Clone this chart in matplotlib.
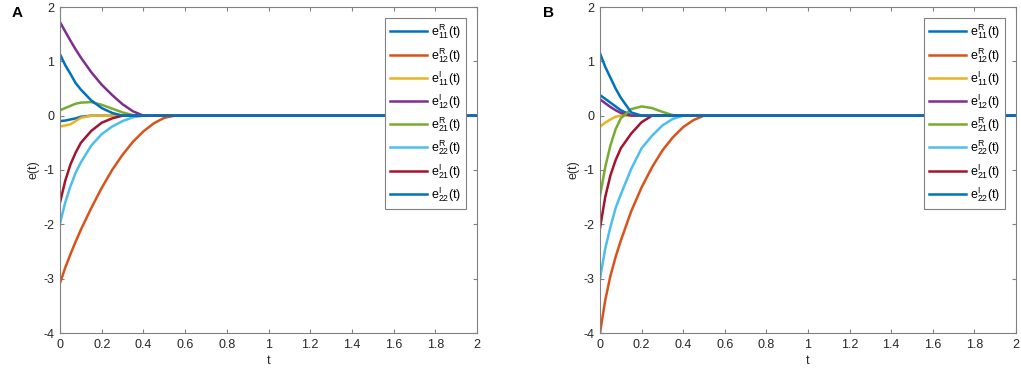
import matplotlib
matplotlib.use("Agg")
import matplotlib.pyplot as plt

plt.rcParams['font.family'] = ['Liberation Sans', 'DejaVu Sans']
plt.rcParams['mathtext.fontset'] = 'custom'
plt.rcParams['mathtext.rm'] = 'Liberation Sans'
plt.rcParams['mathtext.it'] = 'Liberation Sans'
plt.rcParams['axes.unicode_minus'] = False

T = [0, 0.025, 0.05, 0.075, 0.1, 0.15, 0.2, 0.25, 0.3, 0.35, 0.4, 0.45, 0.5, 0.55, 2.0]

labels = [r'$\mathregular{e^{R}_{11}(t)}$', r'$\mathregular{e^{R}_{12}(t)}$',
          r'$\mathregular{e^{I}_{11}(t)}$', r'$\mathregular{e^{I}_{12}(t)}$',
          r'$\mathregular{e^{R}_{21}(t)}$', r'$\mathregular{e^{R}_{22}(t)}$',
          r'$\mathregular{e^{I}_{21}(t)}$', r'$\mathregular{e^{I}_{22}(t)}$']
colors = ['#0072BD', '#D95319', '#EDB120', '#7E2F8E', '#77AC30', '#4DBEEE', '#A2142F', '#0072BD']

# Panel A
A_e11R = [-0.10, -0.09, -0.07, -0.05, -0.02, 0, 0, 0, 0, 0, 0, 0, 0, 0, 0]
A_e12R = [-3.08, -2.80, -2.55, -2.32, -2.10, -1.70, -1.33, -1.00, -0.72, -0.48, -0.29, -0.14, -0.04, 0, 0]
A_e11I = [-0.20, -0.18, -0.16, -0.10, -0.04, 0, 0, 0, 0, 0, 0, 0, 0, 0, 0]
A_e12I = [1.72, 1.55, 1.38, 1.22, 1.07, 0.80, 0.57, 0.38, 0.21, 0.08, 0, 0, 0, 0, 0]
A_e21R = [0.10, 0.14, 0.18, 0.22, 0.24, 0.25, 0.20, 0.13, 0.06, 0.01, 0, 0, 0, 0, 0]
A_e22R = [-1.98, -1.60, -1.30, -1.05, -0.86, -0.55, -0.34, -0.20, -0.10, -0.03, 0, 0, 0, 0, 0]
A_e21I = [-1.60, -1.20, -0.90, -0.68, -0.50, -0.28, -0.13, -0.05, 0, 0, 0, 0, 0, 0, 0]
A_e22I = [1.13, 0.93, 0.77, 0.60, 0.48, 0.28, 0.14, 0.05, 0, 0, 0, 0, 0, 0, 0]

# Panel B
B_e11R = [0.38, 0.31, 0.24, 0.17, 0.10, 0.01, 0, 0, 0, 0, 0, 0, 0, 0, 0]
B_e12R = [-4.00, -3.40, -2.95, -2.60, -2.30, -1.76, -1.32, -0.95, -0.64, -0.40, -0.21, -0.08, 0, 0, 0]
B_e11I = [-0.20, -0.13, -0.07, -0.02, 0, 0, 0, 0, 0, 0, 0, 0, 0, 0, 0]
B_e12I = [0.30, 0.23, 0.16, 0.10, 0.05, 0, 0, 0, 0, 0, 0, 0, 0, 0, 0]
B_e21R = [-1.48, -0.95, -0.55, -0.25, -0.05, 0.12, 0.17, 0.14, 0.07, 0.01, 0, 0, 0, 0, 0]
B_e22R = [-3.00, -2.45, -2.05, -1.70, -1.45, -0.98, -0.60, -0.37, -0.18, -0.06, 0, 0, 0, 0, 0]
B_e21I = [-2.07, -1.50, -1.10, -0.82, -0.60, -0.33, -0.12, 0, 0, 0, 0, 0, 0, 0, 0]
B_e22I = [1.15, 0.90, 0.70, 0.50, 0.33, 0.06, 0, 0, 0, 0, 0, 0, 0, 0, 0]

xticks = [0, 0.2, 0.4, 0.6, 0.8, 1, 1.2, 1.4, 1.6, 1.8, 2]
xticklabels = ['0', '0.2', '0.4', '0.6', '0.8', '1', '1.2', '1.4', '1.6', '1.8', '2']
yticks = [-4, -3, -2, -1, 0, 1, 2]

panelA = [A_e11R, A_e12R, A_e11I, A_e12I, A_e21R, A_e22R, A_e21I, A_e22I]
panelB = [B_e11R, B_e12R, B_e11I, B_e12I, B_e21R, B_e22R, B_e21I, B_e22I]

fig = plt.figure(figsize=(10.21, 3.74), dpi=100)
axA = fig.add_axes([60/1021, 1-333/374, 417/1021, 326/374])
axB = fig.add_axes([600/1021, 1-333/374, 416/1021, 326/374])

gray = '#808080'
for ax, series, letter, lx in [(axA, panelA, 'A', 12/1021), (axB, panelB, 'B', 543/1021)]:
    for s, c, l in zip(series, colors, labels):
        ax.plot(T, s, color=c, lw=1.8, label=l)
    ax.set_xlim(0, 2)
    ax.set_ylim(-4, 2)
    ax.set_xticks(xticks)
    ax.set_xticklabels(xticklabels)
    ax.set_yticks(yticks)
    ax.tick_params(direction='in', length=3, width=0.8, color=gray, labelsize=9,
                   top=True, right=True, labelcolor='#262626', pad=4)
    for sp in ax.spines.values():
        sp.set_color(gray)
        sp.set_linewidth(0.8)
    ax.set_xlabel('t', fontsize=9, color='#262626', labelpad=3)
    ax.set_ylabel('e(t)', fontsize=9, color='#262626', labelpad=3)
    leg = ax.legend(loc='upper right', fontsize=9, handlelength=3.0, labelspacing=0.36,
                    borderpad=0.4, handletextpad=0.3, fancybox=False, framealpha=1,
                    edgecolor=gray, borderaxespad=0.85)
    leg.get_frame().set_linewidth(0.8)
    fig.text(lx, 1-13/374, letter, fontsize=11, fontweight='bold', va='center')

fig.savefig('out.png', dpi=100)
